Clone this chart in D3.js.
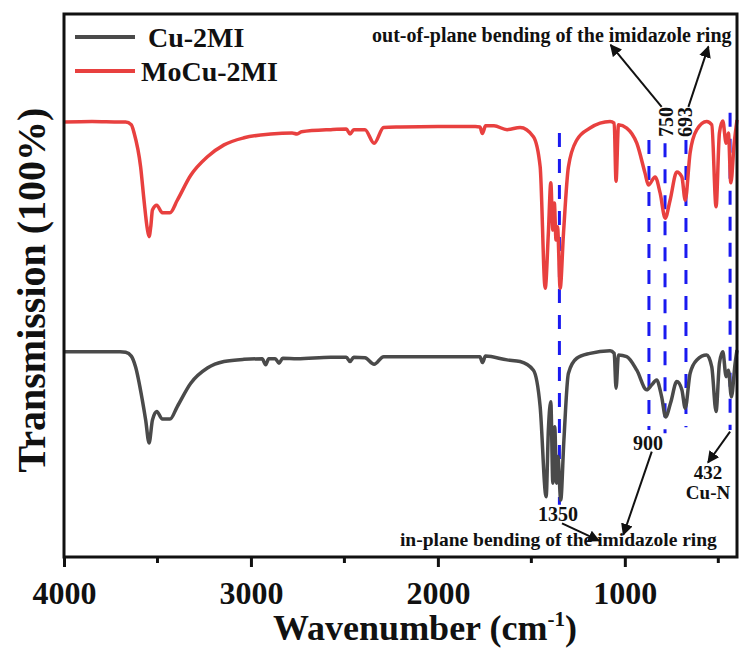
<!DOCTYPE html>
<html>
<head>
<meta charset="utf-8">
<script src="https://cdn.jsdelivr.net/npm/d3@7/dist/d3.min.js"></script>
<style>
  html, body { margin: 0; padding: 0; background: #fff; }
  text { font-family: "Liberation Serif", "Times New Roman", serif; font-weight: bold; fill: #111; }
</style>
</head>
<body>
<div id="chart"></div>
<script>
// wavenumber (cm-1) and transmission (offset, arbitrary %)
var cuWave = [4000, 3700, 3670, 3640, 3617, 3581, 3563, 3545, 3527, 3504, 3474, 3433, 3394, 3322, 3233, 3144, 3037, 2940, 2921, 2905, 2870, 2850, 2830, 2753, 2573, 2490, 2470, 2450, 2390, 2341, 2290, 2000, 1775, 1762, 1745, 1630, 1560, 1489, 1453, 1421, 1409, 1396, 1385, 1375, 1365, 1358, 1343, 1326, 1302, 1257, 1186, 1079, 1057, 1047, 1034, 990, 936, 883, 856, 830, 803, 782, 755, 722, 695, 677, 651, 615, 562, 535, 512, 494, 476, 458, 446, 430, 410, 400];
var cuT = [37.8, 37.8, 37.7, 37.0, 35.0, 28.9, 25.2, 21.0, 25.2, 26.8, 25.4, 25.4, 27.7, 32.0, 34.8, 36.0, 36.4, 36.5, 35.4, 36.5, 36.5, 35.7, 36.6, 36.5, 36.8, 36.8, 36.0, 36.8, 36.7, 35.5, 36.9, 36.9, 36.9, 35.8, 37.0, 36.3, 36.0, 34.4, 27.7, 11.1, 23.4, 28.6, 13.6, 24.0, 13.6, 18.5, 10.5, 21.5, 33.8, 36.6, 37.5, 38.0, 37.5, 31.1, 37.2, 36.9, 34.4, 30.8, 31.7, 32.6, 29.5, 25.8, 28.4, 32.3, 30.8, 27.4, 33.8, 36.3, 37.2, 35.0, 26.8, 35.7, 37.8, 33.2, 34.4, 29.5, 35.7, 38.1];

var moWave = [4000, 3850, 3700, 3670, 3640, 3625, 3590, 3572, 3555, 3545, 3535, 3527, 3504, 3474, 3433, 3394, 3322, 3233, 3144, 3037, 2894, 2780, 2753, 2730, 2573, 2490, 2470, 2450, 2390, 2341, 2290, 2200, 2000, 1800, 1775, 1762, 1745, 1700, 1630, 1560, 1489, 1453, 1426, 1409, 1396, 1385, 1377, 1368, 1360, 1346, 1328, 1302, 1257, 1186, 1079, 1057, 1047, 1034, 990, 936, 892, 874, 838, 811, 784, 758, 722, 695, 677, 651, 615, 562, 535, 512, 494, 476, 458, 446, 433, 415, 400];
var moT = [80.1, 80.2, 80.1, 80.1, 79.6, 78.1, 71.8, 65.7, 60.6, 59.0, 61.1, 63.9, 64.8, 63.4, 63.4, 65.7, 70.3, 73.7, 75.9, 77.2, 77.9, 78.1, 77.9, 78.3, 78.7, 78.8, 77.9, 78.7, 78.7, 76.2, 79.1, 79.2, 79.3, 79.3, 79.2, 78.0, 79.4, 79.4, 78.7, 79.1, 77.4, 71.9, 49.5, 59.7, 68.9, 60.2, 65.2, 58.4, 60.8, 49.5, 59.7, 71.8, 76.8, 79.0, 80.2, 79.9, 69.2, 79.6, 79.0, 76.2, 70.7, 68.5, 70.0, 67.0, 62.4, 65.7, 70.9, 70.0, 65.7, 74.4, 78.7, 80.2, 79.6, 64.5, 78.1, 80.3, 76.2, 78.1, 68.9, 76.2, 80.5];

var seriesNames = ["Cu-2MI", "MoCu-2MI"];
var seriesColors = ["#4a4a4a", "#e8403f"];

var xTicksMajor = [4000, 3000, 2000, 1000];
var xTicksMinor = [3500, 2500, 1500, 500];

// marked bands: wavenumber, top and bottom of the dashed guide
var guideWave = [1350, 871, 785, 673, 437];
var guideTop = [78.1, 76.8, 76.2, 76.8, 81.8];
var guideBottom = [9.6, 23.4, 22.8, 23.9, 23.4];

// peak labels: text, wavenumber, level, rotated
var peakText = ["750", "693", "1350", "900", "432", "Cu-N"];
var peakWave = [742, 641, 1358, 876, 555, 555];
var peakLevel = [80.1, 80.1, 6.6, 19.7, 14.4, 10.7];
var peakRotated = [true, true, false, false, false, false];

// arrows: from (wave, level) to (wave, level)
var arrowFrom = [[803, 82.9], [660, 82.9], [1336, 6.2], [856, 19.4], [437, 23.1]];
var arrowTo = [[1076, 94.3], [553, 94.0], [1138, 3.0], [1008, 4.1], [555, 17.4]];

var noteText = ["out-of-plane bending of the imidazole ring", "in-plane bending of the imidazole ring"];
var noteWave = [2352, 2203];
var noteLevel = [94.9, 2.1];
var noteSize = [20, 19.5];

var W = 742, H = 650;
var margin = { left: 64, right: 5, top: 14, bottom: 93 };

var svg = d3.select("#chart").append("svg")
  .attr("width", W)
  .attr("height", H);

var x = d3.scaleLinear().domain([4000, 400]).range([margin.left, W - margin.right]);
var y = d3.scaleLinear().domain([0, 100]).range([H - margin.bottom, margin.top]);

svg.append("defs").append("marker")
  .attr("id", "arrowhead")
  .attr("viewBox", "0 0 10 10")
  .attr("refX", 9)
  .attr("refY", 5)
  .attr("markerWidth", 6)
  .attr("markerHeight", 6)
  .attr("markerUnits", "strokeWidth")
  .attr("orient", "auto")
  .append("path")
  .attr("d", "M0,0L10,5L0,10Z")
  .attr("fill", "#111");

// dashed guides
svg.selectAll(".guide")
  .data(guideWave)
  .enter().append("line")
  .attr("class", "guide")
  .attr("x1", function (d) { return x(d); })
  .attr("x2", function (d) { return x(d); })
  .attr("y1", function (d, i) { return y(guideTop[i]); })
  .attr("y2", function (d, i) { return y(guideBottom[i]); })
  .attr("stroke", "#1a1af0")
  .attr("stroke-width", 3)
  .attr("stroke-dasharray", "14,12");

// spectra
var line = d3.line()
  .x(function (d) { return x(d[0]); })
  .y(function (d) { return y(d[1]); })
  .curve(d3.curveMonotoneX);

var spectra = [d3.zip(cuWave, cuT), d3.zip(moWave, moT)];
svg.selectAll(".spectrum")
  .data(spectra)
  .enter().append("path")
  .attr("class", "spectrum")
  .attr("d", line)
  .attr("fill", "none")
  .attr("stroke", function (d, i) { return seriesColors[i]; })
  .attr("stroke-width", 3.5)
  .attr("stroke-linejoin", "round");

// frame
svg.append("rect")
  .attr("x", x(4000))
  .attr("y", y(100))
  .attr("width", x(400) - x(4000))
  .attr("height", y(0) - y(100))
  .attr("fill", "none")
  .attr("stroke", "#111")
  .attr("stroke-width", 3);

// x axis
var xAxis = d3.axisBottom(x)
  .tickValues(xTicksMajor)
  .tickSize(10)
  .tickSizeOuter(0)
  .tickPadding(14)
  .tickFormat(d3.format("d"));

var gx = svg.append("g")
  .attr("transform", "translate(0," + y(0) + ")")
  .call(xAxis);
gx.select(".domain").remove();
gx.selectAll(".tick line").attr("stroke", "#111").attr("stroke-width", 3);
gx.selectAll(".tick text")
  .attr("font-size", "32px")
  .attr("fill", "#111")
  .attr("font-family", "Liberation Serif, Times New Roman, serif")
  .attr("font-weight", "bold");

svg.append("g").selectAll("line")
  .data(xTicksMinor)
  .enter().append("line")
  .attr("x1", function (d) { return x(d); })
  .attr("x2", function (d) { return x(d); })
  .attr("y1", y(0))
  .attr("y2", y(0) + 6)
  .attr("stroke", "#111")
  .attr("stroke-width", 3);

// axis titles
var xt = svg.append("text")
  .attr("x", 425)
  .attr("y", 640)
  .attr("text-anchor", "middle")
  .attr("font-size", "36px");
xt.append("tspan").text("Wavenumber (cm");
xt.append("tspan").attr("dy", -14).attr("font-size", "21px").text("-1");
xt.append("tspan").attr("dy", 14).text(")");

svg.append("text")
  .attr("transform", "translate(45,290) rotate(-90)")
  .attr("text-anchor", "middle")
  .attr("font-size", "40px")
  .text("Transmission (100%)");

// legend
var legend = svg.append("g").selectAll("g")
  .data(seriesNames)
  .enter().append("g")
  .attr("transform", function (d, i) { return "translate(75," + (37 + i * 34) + ")"; });
legend.append("line")
  .attr("x1", 0).attr("x2", 60)
  .attr("stroke", function (d, i) { return seriesColors[i]; })
  .attr("stroke-width", 4);
legend.append("text")
  .attr("x", function (d, i) { return i === 0 ? 73 : 66; })
  .attr("y", 10)
  .attr("font-size", "28px")
  .text(function (d) { return d; });

// arrows
svg.selectAll(".arrow")
  .data(arrowFrom)
  .enter().append("line")
  .attr("class", "arrow")
  .attr("x1", function (d) { return x(d[0]); })
  .attr("y1", function (d) { return y(d[1]); })
  .attr("x2", function (d, i) { return x(arrowTo[i][0]); })
  .attr("y2", function (d, i) { return y(arrowTo[i][1]); })
  .attr("stroke", "#111")
  .attr("stroke-width", 2)
  .attr("marker-end", "url(#arrowhead)");

// peak labels
svg.selectAll(".peak")
  .data(peakText)
  .enter().append("text")
  .attr("class", "peak")
  .attr("text-anchor", "middle")
  .attr("font-size", function (d, i) { return i >= 4 ? "19px" : "20px"; })
  .attr("transform", function (d, i) {
    var t = "translate(" + x(peakWave[i]) + "," + y(peakLevel[i]) + ")";
    return peakRotated[i] ? t + " rotate(-90)" : t;
  })
  .text(function (d) { return d; });

// notes
svg.selectAll(".note")
  .data(noteText)
  .enter().append("text")
  .attr("class", "note")
  .attr("x", function (d, i) { return x(noteWave[i]); })
  .attr("y", function (d, i) { return y(noteLevel[i]); })
  .attr("font-size", function (d, i) { return noteSize[i] + "px"; })
  .text(function (d) { return d; });
</script>
</body>
</html>
